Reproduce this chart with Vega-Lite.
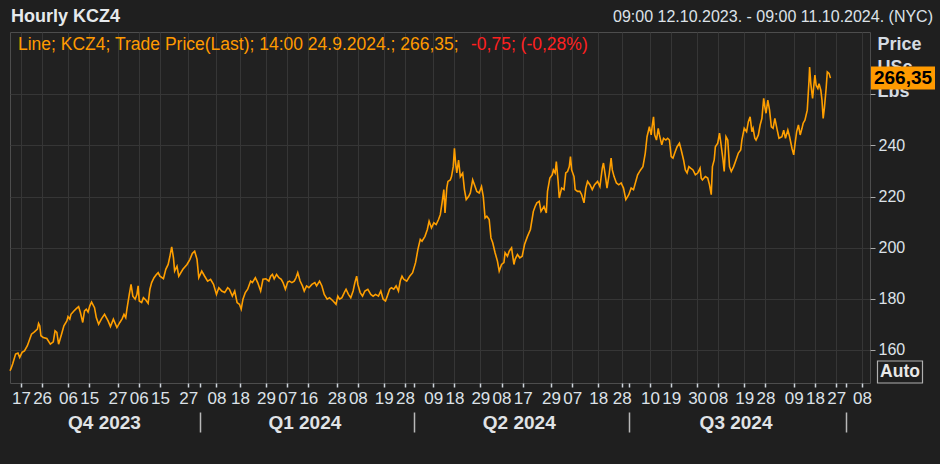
{
  "$schema": "https://vega.github.io/schema/vega-lite/v6.json",
  "width": 860,
  "height": 351,
  "autosize": {"type": "none"},
  "padding": {"left": 10, "top": 32, "right": 70, "bottom": 81},
  "background": "#1f1f1f",
  "datasets": {
    "price": [
      {"t": "2023-10-12T09:00", "v": 151.8}, {"t": "2023-10-12T18:00", "v": 152.5}, {"t": "2023-10-13T12:00", "v": 154.4}, {"t": "2023-10-14T18:00", "v": 158.3}, {"t": "2023-10-15T18:00", "v": 158.7}, {"t": "2023-10-16T12:00", "v": 157.0}, {"t": "2023-10-17T12:00", "v": 159.0}, {"t": "2023-10-18T12:00", "v": 159.6}, {"t": "2023-10-19T18:00", "v": 161.6}, {"t": "2023-10-21T00:00", "v": 164.8}, {"t": "2023-10-21T12:00", "v": 166.1}, {"t": "2023-10-22T18:00", "v": 167.0}, {"t": "2023-10-24T00:00", "v": 168.1}, {"t": "2023-10-24T12:00", "v": 170.3}, {"t": "2023-10-25T00:00", "v": 169.4}, {"t": "2023-10-25T12:00", "v": 165.5}, {"t": "2023-10-26T12:00", "v": 164.8}, {"t": "2023-10-28T00:00", "v": 164.4}, {"t": "2023-10-29T12:00", "v": 162.2}, {"t": "2023-10-30T18:00", "v": 163.1}, {"t": "2023-10-31T12:00", "v": 167.4},
      {"t": "2023-11-01T06:00", "v": 166.8}, {"t": "2023-11-02T00:00", "v": 162.2}, {"t": "2023-11-03T06:00", "v": 166.1}, {"t": "2023-11-04T06:00", "v": 169.4}, {"t": "2023-11-05T12:00", "v": 171.3}, {"t": "2023-11-06T00:00", "v": 173.0}, {"t": "2023-11-06T18:00", "v": 172.0}, {"t": "2023-11-07T06:00", "v": 173.9}, {"t": "2023-11-08T12:00", "v": 175.2}, {"t": "2023-11-09T12:00", "v": 176.1}, {"t": "2023-11-10T12:00", "v": 176.9}, {"t": "2023-11-11T06:00", "v": 174.6}, {"t": "2023-11-12T06:00", "v": 170.7}, {"t": "2023-11-13T00:00", "v": 175.2}, {"t": "2023-11-13T18:00", "v": 175.9}, {"t": "2023-11-14T12:00", "v": 174.8}, {"t": "2023-11-15T06:00", "v": 177.2}, {"t": "2023-11-16T00:00", "v": 178.7}, {"t": "2023-11-17T06:00", "v": 176.5}, {"t": "2023-11-18T00:00", "v": 172.6}, {"t": "2023-11-19T00:00", "v": 170.0}, {"t": "2023-11-20T06:00", "v": 172.2}, {"t": "2023-11-21T12:00", "v": 173.9}, {"t": "2023-11-23T00:00", "v": 171.3}, {"t": "2023-11-24T00:00", "v": 169.1}, {"t": "2023-11-25T06:00", "v": 172.0}, {"t": "2023-11-26T18:00", "v": 168.7}, {"t": "2023-11-28T00:00", "v": 170.7}, {"t": "2023-11-29T00:00", "v": 172.2}, {"t": "2023-11-29T18:00", "v": 173.9}, {"t": "2023-11-30T12:00", "v": 172.6},
      {"t": "2023-12-01T00:00", "v": 175.9}, {"t": "2023-12-02T00:00", "v": 181.7}, {"t": "2023-12-02T18:00", "v": 185.6}, {"t": "2023-12-03T12:00", "v": 181.0}, {"t": "2023-12-04T12:00", "v": 179.8}, {"t": "2023-12-05T06:00", "v": 181.7}, {"t": "2023-12-05T18:00", "v": 185.0}, {"t": "2023-12-06T06:00", "v": 179.1}, {"t": "2023-12-07T06:00", "v": 178.5}, {"t": "2023-12-08T00:00", "v": 180.4}, {"t": "2023-12-09T00:00", "v": 179.5}, {"t": "2023-12-10T00:00", "v": 178.2}, {"t": "2023-12-10T18:00", "v": 183.7}, {"t": "2023-12-11T12:00", "v": 186.3}, {"t": "2023-12-12T12:00", "v": 188.2}, {"t": "2023-12-13T12:00", "v": 189.5}, {"t": "2023-12-14T06:00", "v": 190.2}, {"t": "2023-12-15T00:00", "v": 188.8}, {"t": "2023-12-16T12:00", "v": 187.8}, {"t": "2023-12-17T12:00", "v": 191.5}, {"t": "2023-12-18T12:00", "v": 193.4}, {"t": "2023-12-19T06:00", "v": 196.6}, {"t": "2023-12-20T00:00", "v": 200.3}, {"t": "2023-12-20T18:00", "v": 196.0}, {"t": "2023-12-21T06:00", "v": 190.8}, {"t": "2023-12-22T06:00", "v": 192.7}, {"t": "2023-12-23T00:00", "v": 188.8}, {"t": "2023-12-24T18:00", "v": 191.5}, {"t": "2023-12-26T12:00", "v": 193.4}, {"t": "2023-12-27T18:00", "v": 195.4}, {"t": "2023-12-28T18:00", "v": 197.7}, {"t": "2023-12-29T18:00", "v": 198.6}, {"t": "2023-12-30T18:00", "v": 195.4}, {"t": "2023-12-31T12:00", "v": 188.2},
      {"t": "2024-01-01T18:00", "v": 190.8}, {"t": "2024-01-03T00:00", "v": 188.8}, {"t": "2024-01-04T06:00", "v": 186.9}, {"t": "2024-01-05T12:00", "v": 187.6}, {"t": "2024-01-06T18:00", "v": 185.6}, {"t": "2024-01-08T00:00", "v": 181.7}, {"t": "2024-01-09T00:00", "v": 184.3}, {"t": "2024-01-10T06:00", "v": 183.0}, {"t": "2024-01-11T12:00", "v": 182.4}, {"t": "2024-01-12T18:00", "v": 184.3}, {"t": "2024-01-13T12:00", "v": 183.7}, {"t": "2024-01-14T18:00", "v": 181.0}, {"t": "2024-01-15T18:00", "v": 183.0}, {"t": "2024-01-16T18:00", "v": 178.5}, {"t": "2024-01-17T18:00", "v": 177.8}, {"t": "2024-01-18T12:00", "v": 175.9}, {"t": "2024-01-19T06:00", "v": 179.8}, {"t": "2024-01-20T06:00", "v": 182.4}, {"t": "2024-01-21T06:00", "v": 183.7}, {"t": "2024-01-22T12:00", "v": 186.9}, {"t": "2024-01-23T06:00", "v": 186.3}, {"t": "2024-01-24T12:00", "v": 188.2}, {"t": "2024-01-25T12:00", "v": 186.3}, {"t": "2024-01-26T18:00", "v": 183.0}, {"t": "2024-01-27T18:00", "v": 187.6}, {"t": "2024-01-29T00:00", "v": 187.8}, {"t": "2024-01-30T06:00", "v": 186.9}, {"t": "2024-01-31T00:00", "v": 188.8}, {"t": "2024-01-31T18:00", "v": 189.5},
      {"t": "2024-02-01T12:00", "v": 187.8}, {"t": "2024-02-02T12:00", "v": 189.5}, {"t": "2024-02-03T12:00", "v": 188.2}, {"t": "2024-02-04T12:00", "v": 187.6}, {"t": "2024-02-05T06:00", "v": 186.3}, {"t": "2024-02-06T06:00", "v": 183.7}, {"t": "2024-02-07T06:00", "v": 186.5}, {"t": "2024-02-08T00:00", "v": 186.9}, {"t": "2024-02-09T00:00", "v": 186.3}, {"t": "2024-02-10T00:00", "v": 186.9}, {"t": "2024-02-10T18:00", "v": 188.2}, {"t": "2024-02-11T12:00", "v": 190.2}, {"t": "2024-02-12T12:00", "v": 186.9}, {"t": "2024-02-13T12:00", "v": 185.0}, {"t": "2024-02-14T06:00", "v": 183.0}, {"t": "2024-02-15T06:00", "v": 185.0}, {"t": "2024-02-16T06:00", "v": 184.3}, {"t": "2024-02-17T12:00", "v": 185.6}, {"t": "2024-02-18T18:00", "v": 186.3}, {"t": "2024-02-19T12:00", "v": 185.0}, {"t": "2024-02-20T18:00", "v": 186.9}, {"t": "2024-02-21T18:00", "v": 185.0}, {"t": "2024-02-22T18:00", "v": 181.7}, {"t": "2024-02-24T00:00", "v": 179.8}, {"t": "2024-02-25T00:00", "v": 180.4}, {"t": "2024-02-26T12:00", "v": 179.1}, {"t": "2024-02-27T18:00", "v": 177.8}, {"t": "2024-02-28T12:00", "v": 181.0}, {"t": "2024-02-29T06:00", "v": 179.8},
      {"t": "2024-03-01T06:00", "v": 180.4}, {"t": "2024-03-02T06:00", "v": 182.4}, {"t": "2024-03-03T00:00", "v": 183.7}, {"t": "2024-03-04T00:00", "v": 181.7}, {"t": "2024-03-05T00:00", "v": 180.4}, {"t": "2024-03-06T00:00", "v": 183.0}, {"t": "2024-03-06T18:00", "v": 186.3}, {"t": "2024-03-07T12:00", "v": 188.8}, {"t": "2024-03-08T00:00", "v": 185.6}, {"t": "2024-03-09T00:00", "v": 182.4}, {"t": "2024-03-10T00:00", "v": 181.0}, {"t": "2024-03-11T00:00", "v": 183.0}, {"t": "2024-03-12T06:00", "v": 183.7}, {"t": "2024-03-13T12:00", "v": 181.7}, {"t": "2024-03-14T12:00", "v": 181.0}, {"t": "2024-03-15T12:00", "v": 181.7}, {"t": "2024-03-16T18:00", "v": 181.0}, {"t": "2024-03-17T18:00", "v": 183.0}, {"t": "2024-03-18T18:00", "v": 179.8}, {"t": "2024-03-19T18:00", "v": 179.1}, {"t": "2024-03-20T12:00", "v": 181.0}, {"t": "2024-03-21T12:00", "v": 183.7}, {"t": "2024-03-22T06:00", "v": 184.3}, {"t": "2024-03-23T06:00", "v": 183.7}, {"t": "2024-03-24T06:00", "v": 185.0}, {"t": "2024-03-25T06:00", "v": 183.0}, {"t": "2024-03-26T00:00", "v": 186.9}, {"t": "2024-03-26T18:00", "v": 188.8}, {"t": "2024-03-27T12:00", "v": 187.6}, {"t": "2024-03-28T18:00", "v": 186.9}, {"t": "2024-03-30T00:00", "v": 188.8}, {"t": "2024-03-31T06:00", "v": 190.2},
      {"t": "2024-04-01T12:00", "v": 194.1}, {"t": "2024-04-02T12:00", "v": 199.3}, {"t": "2024-04-03T12:00", "v": 203.2}, {"t": "2024-04-04T06:00", "v": 202.5}, {"t": "2024-04-05T12:00", "v": 204.4}, {"t": "2024-04-06T12:00", "v": 207.1}, {"t": "2024-04-07T06:00", "v": 210.3}, {"t": "2024-04-08T06:00", "v": 207.7}, {"t": "2024-04-09T06:00", "v": 209.7}, {"t": "2024-04-10T06:00", "v": 209.0}, {"t": "2024-04-11T06:00", "v": 211.0}, {"t": "2024-04-12T00:00", "v": 212.9}, {"t": "2024-04-12T18:00", "v": 217.5}, {"t": "2024-04-13T12:00", "v": 222.7}, {"t": "2024-04-14T00:00", "v": 213.6}, {"t": "2024-04-14T18:00", "v": 223.3}, {"t": "2024-04-15T06:00", "v": 225.9}, {"t": "2024-04-16T06:00", "v": 226.5}, {"t": "2024-04-16T18:00", "v": 227.8}, {"t": "2024-04-17T12:00", "v": 231.7}, {"t": "2024-04-18T00:00", "v": 238.9}, {"t": "2024-04-18T12:00", "v": 233.1}, {"t": "2024-04-19T00:00", "v": 229.2}, {"t": "2024-04-19T18:00", "v": 234.3}, {"t": "2024-04-20T12:00", "v": 227.8}, {"t": "2024-04-21T12:00", "v": 229.2}, {"t": "2024-04-22T06:00", "v": 222.7}, {"t": "2024-04-23T00:00", "v": 218.8}, {"t": "2024-04-24T00:00", "v": 220.0}, {"t": "2024-04-24T18:00", "v": 221.4}, {"t": "2024-04-25T18:00", "v": 226.5}, {"t": "2024-04-26T12:00", "v": 224.6}, {"t": "2024-04-27T12:00", "v": 222.0}, {"t": "2024-04-28T12:00", "v": 221.4}, {"t": "2024-04-29T12:00", "v": 223.9}, {"t": "2024-04-30T06:00", "v": 220.0},
      {"t": "2024-05-01T00:00", "v": 211.6}, {"t": "2024-05-01T18:00", "v": 212.3}, {"t": "2024-05-02T18:00", "v": 211.0}, {"t": "2024-05-03T12:00", "v": 203.8}, {"t": "2024-05-04T06:00", "v": 201.9}, {"t": "2024-05-05T06:00", "v": 198.0}, {"t": "2024-05-06T06:00", "v": 194.7}, {"t": "2024-05-07T00:00", "v": 190.8}, {"t": "2024-05-08T00:00", "v": 193.4}, {"t": "2024-05-09T00:00", "v": 194.1}, {"t": "2024-05-09T12:00", "v": 198.0}, {"t": "2024-05-10T12:00", "v": 196.6}, {"t": "2024-05-11T06:00", "v": 198.6}, {"t": "2024-05-12T06:00", "v": 199.9}, {"t": "2024-05-13T06:00", "v": 193.4}, {"t": "2024-05-13T18:00", "v": 195.4}, {"t": "2024-05-14T18:00", "v": 197.3}, {"t": "2024-05-15T18:00", "v": 196.0}, {"t": "2024-05-16T18:00", "v": 196.6}, {"t": "2024-05-17T18:00", "v": 201.2}, {"t": "2024-05-19T00:00", "v": 204.4}, {"t": "2024-05-20T06:00", "v": 207.1}, {"t": "2024-05-21T12:00", "v": 214.2}, {"t": "2024-05-22T06:00", "v": 216.1}, {"t": "2024-05-23T00:00", "v": 217.5}, {"t": "2024-05-24T00:00", "v": 218.1}, {"t": "2024-05-24T18:00", "v": 214.2}, {"t": "2024-05-26T00:00", "v": 216.1}, {"t": "2024-05-27T00:00", "v": 213.6}, {"t": "2024-05-27T12:00", "v": 222.0}, {"t": "2024-05-28T12:00", "v": 227.2}, {"t": "2024-05-29T12:00", "v": 228.5}, {"t": "2024-05-30T00:00", "v": 230.4}, {"t": "2024-05-30T18:00", "v": 229.2}, {"t": "2024-05-31T06:00", "v": 233.7},
      {"t": "2024-06-01T00:00", "v": 225.9}, {"t": "2024-06-01T12:00", "v": 219.4}, {"t": "2024-06-02T12:00", "v": 223.3}, {"t": "2024-06-03T12:00", "v": 222.7}, {"t": "2024-06-04T06:00", "v": 229.2}, {"t": "2024-06-05T00:00", "v": 229.8}, {"t": "2024-06-05T18:00", "v": 231.7}, {"t": "2024-06-06T06:00", "v": 235.6}, {"t": "2024-06-06T18:00", "v": 230.4}, {"t": "2024-06-07T18:00", "v": 227.8}, {"t": "2024-06-08T06:00", "v": 222.7}, {"t": "2024-06-09T06:00", "v": 222.0}, {"t": "2024-06-10T06:00", "v": 222.0}, {"t": "2024-06-11T00:00", "v": 220.7}, {"t": "2024-06-12T00:00", "v": 217.5}, {"t": "2024-06-12T18:00", "v": 223.3}, {"t": "2024-06-13T12:00", "v": 225.9}, {"t": "2024-06-14T12:00", "v": 224.6}, {"t": "2024-06-15T12:00", "v": 222.7}, {"t": "2024-06-16T12:00", "v": 224.6}, {"t": "2024-06-17T18:00", "v": 225.9}, {"t": "2024-06-18T18:00", "v": 223.9}, {"t": "2024-06-19T18:00", "v": 231.1}, {"t": "2024-06-20T06:00", "v": 233.1}, {"t": "2024-06-21T00:00", "v": 228.5}, {"t": "2024-06-21T18:00", "v": 223.3}, {"t": "2024-06-22T18:00", "v": 229.2}, {"t": "2024-06-23T12:00", "v": 235.0}, {"t": "2024-06-24T00:00", "v": 230.4}, {"t": "2024-06-24T18:00", "v": 227.8}, {"t": "2024-06-25T18:00", "v": 225.3}, {"t": "2024-06-26T18:00", "v": 224.6}, {"t": "2024-06-27T18:00", "v": 225.3}, {"t": "2024-06-28T18:00", "v": 223.3}, {"t": "2024-06-29T18:00", "v": 218.8},
      {"t": "2024-07-01T00:00", "v": 220.7}, {"t": "2024-07-02T00:00", "v": 223.3}, {"t": "2024-07-03T00:00", "v": 222.7}, {"t": "2024-07-04T18:00", "v": 228.5}, {"t": "2024-07-06T00:00", "v": 230.4}, {"t": "2024-07-07T00:00", "v": 231.7}, {"t": "2024-07-08T00:00", "v": 237.0}, {"t": "2024-07-08T18:00", "v": 243.4}, {"t": "2024-07-09T18:00", "v": 247.3}, {"t": "2024-07-10T12:00", "v": 244.1}, {"t": "2024-07-11T00:00", "v": 248.0}, {"t": "2024-07-11T12:00", "v": 251.2}, {"t": "2024-07-12T00:00", "v": 244.1}, {"t": "2024-07-12T18:00", "v": 242.1}, {"t": "2024-07-13T12:00", "v": 246.7}, {"t": "2024-07-14T00:00", "v": 244.1}, {"t": "2024-07-15T00:00", "v": 240.2}, {"t": "2024-07-15T18:00", "v": 242.8}, {"t": "2024-07-16T18:00", "v": 242.1}, {"t": "2024-07-17T12:00", "v": 242.8}, {"t": "2024-07-18T06:00", "v": 242.1}, {"t": "2024-07-19T00:00", "v": 235.6}, {"t": "2024-07-19T18:00", "v": 235.0}, {"t": "2024-07-20T12:00", "v": 237.0}, {"t": "2024-07-21T12:00", "v": 239.5}, {"t": "2024-07-22T12:00", "v": 240.9}, {"t": "2024-07-23T06:00", "v": 238.2}, {"t": "2024-07-24T06:00", "v": 234.3}, {"t": "2024-07-25T00:00", "v": 230.4}, {"t": "2024-07-25T18:00", "v": 229.2}, {"t": "2024-07-26T12:00", "v": 231.7}, {"t": "2024-07-27T06:00", "v": 231.1}, {"t": "2024-07-28T06:00", "v": 230.4}, {"t": "2024-07-29T06:00", "v": 228.5}, {"t": "2024-07-30T06:00", "v": 229.2}, {"t": "2024-07-31T06:00", "v": 231.1}, {"t": "2024-07-31T18:00", "v": 227.2},
      {"t": "2024-08-01T06:00", "v": 226.5}, {"t": "2024-08-02T12:00", "v": 227.8}, {"t": "2024-08-03T12:00", "v": 227.2}, {"t": "2024-08-04T06:00", "v": 224.6}, {"t": "2024-08-05T00:00", "v": 220.7}, {"t": "2024-08-05T12:00", "v": 231.7}, {"t": "2024-08-06T06:00", "v": 234.3}, {"t": "2024-08-06T18:00", "v": 239.5}, {"t": "2024-08-07T18:00", "v": 240.9}, {"t": "2024-08-08T12:00", "v": 244.8}, {"t": "2024-08-09T00:00", "v": 241.5}, {"t": "2024-08-10T00:00", "v": 234.3}, {"t": "2024-08-10T12:00", "v": 229.8}, {"t": "2024-08-11T06:00", "v": 243.4}, {"t": "2024-08-12T00:00", "v": 242.1}, {"t": "2024-08-12T18:00", "v": 231.7}, {"t": "2024-08-13T12:00", "v": 229.8}, {"t": "2024-08-14T12:00", "v": 231.7}, {"t": "2024-08-15T12:00", "v": 234.3}, {"t": "2024-08-16T12:00", "v": 237.0}, {"t": "2024-08-17T12:00", "v": 238.2}, {"t": "2024-08-18T00:00", "v": 242.1}, {"t": "2024-08-19T00:00", "v": 246.7}, {"t": "2024-08-20T00:00", "v": 245.4}, {"t": "2024-08-20T18:00", "v": 249.3}, {"t": "2024-08-21T12:00", "v": 251.2}, {"t": "2024-08-22T06:00", "v": 245.4}, {"t": "2024-08-22T18:00", "v": 246.7}, {"t": "2024-08-23T12:00", "v": 242.8}, {"t": "2024-08-24T00:00", "v": 242.1}, {"t": "2024-08-25T00:00", "v": 244.1}, {"t": "2024-08-25T18:00", "v": 248.0}, {"t": "2024-08-26T12:00", "v": 250.6}, {"t": "2024-08-27T06:00", "v": 258.4}, {"t": "2024-08-27T18:00", "v": 255.1}, {"t": "2024-08-28T06:00", "v": 252.6}, {"t": "2024-08-29T00:00", "v": 257.7}, {"t": "2024-08-29T18:00", "v": 253.8}, {"t": "2024-08-30T12:00", "v": 247.3}, {"t": "2024-08-31T06:00", "v": 246.7},
      {"t": "2024-09-01T00:00", "v": 250.6}, {"t": "2024-09-02T00:00", "v": 246.0}, {"t": "2024-09-02T18:00", "v": 242.8}, {"t": "2024-09-04T00:00", "v": 243.4}, {"t": "2024-09-04T18:00", "v": 246.0}, {"t": "2024-09-05T12:00", "v": 242.8}, {"t": "2024-09-06T12:00", "v": 246.0}, {"t": "2024-09-07T06:00", "v": 243.4}, {"t": "2024-09-08T06:00", "v": 238.9}, {"t": "2024-09-09T00:00", "v": 236.3}, {"t": "2024-09-09T12:00", "v": 240.2}, {"t": "2024-09-10T06:00", "v": 245.4}, {"t": "2024-09-11T00:00", "v": 248.0}, {"t": "2024-09-11T18:00", "v": 244.1}, {"t": "2024-09-12T12:00", "v": 246.7}, {"t": "2024-09-13T00:00", "v": 248.7}, {"t": "2024-09-13T18:00", "v": 249.9}, {"t": "2024-09-14T18:00", "v": 253.8}, {"t": "2024-09-15T00:00", "v": 257.7}, {"t": "2024-09-15T12:00", "v": 265.5}, {"t": "2024-09-15T18:00", "v": 270.7}, {"t": "2024-09-16T06:00", "v": 264.2}, {"t": "2024-09-17T00:00", "v": 258.4}, {"t": "2024-09-17T12:00", "v": 263.0}, {"t": "2024-09-18T00:00", "v": 267.5}, {"t": "2024-09-18T12:00", "v": 263.6}, {"t": "2024-09-19T06:00", "v": 262.3}, {"t": "2024-09-19T18:00", "v": 264.2}, {"t": "2024-09-20T12:00", "v": 261.6}, {"t": "2024-09-21T00:00", "v": 257.7}, {"t": "2024-09-21T12:00", "v": 250.6}, {"t": "2024-09-22T00:00", "v": 254.5}, {"t": "2024-09-22T18:00", "v": 262.3}, {"t": "2024-09-23T06:00", "v": 268.8}, {"t": "2024-09-24T00:00", "v": 268.2}, {"t": "2024-09-24T14:00", "v": 266.35}
    ],
    "last": [{"v": 266.35, "label": "266,35"}],
    "header": [{"text": "Hourly KCZ4"}],
    "legend": [{"text": "Line; KCZ4; Trade Price(Last); 14:00 24.9.2024.; 266,35;"}],
    "change": [{"text": "-0,75; (-0,28%)"}],
    "range": [{"text": "09:00 12.10.2023. - 09:00 11.10.2024. (NYC)"}],
    "button": [{"text": "Auto"}]
  },
  "config": {
    "view": {"fill": "#212121", "stroke": "#4d4d4d", "strokeWidth": 1},
    "font": "Liberation Sans",
    "axis": {"labelFont": "Liberation Sans", "titleFont": "Liberation Sans"},
    "text": {"font": "Liberation Sans"}
  },
  "resolve": {"axis": {"x": "independent", "y": "independent"}},
  "layer": [
    {
      "data": {"name": "price"},
      "mark": {"type": "line", "color": "#ff9f00", "strokeWidth": 1.6},
      "encoding": {
        "x": {
          "field": "t", "type": "temporal",
          "scale": {"domain": [{"year": 2023, "month": 10, "date": 12, "hours": 9}, {"year": 2024, "month": 10, "date": 11, "hours": 9}], "nice": false},
          "axis": {
            "orient": "bottom", "title": null, "domain": false, "format": "%d",
            "values": [
              {"year": 2023, "month": 10, "date": 17}, {"year": 2023, "month": 10, "date": 26}, {"year": 2023, "month": 11, "date": 6}, {"year": 2023, "month": 11, "date": 15}, {"year": 2023, "month": 11, "date": 27}, {"year": 2023, "month": 12, "date": 6}, {"year": 2023, "month": 12, "date": 15}, {"year": 2023, "month": 12, "date": 27},
              {"year": 2024, "month": 1, "date": 1}, {"year": 2024, "month": 1, "date": 8}, {"year": 2024, "month": 1, "date": 18}, {"year": 2024, "month": 1, "date": 29}, {"year": 2024, "month": 2, "date": 7}, {"year": 2024, "month": 2, "date": 16}, {"year": 2024, "month": 2, "date": 28}, {"year": 2024, "month": 3, "date": 8}, {"year": 2024, "month": 3, "date": 19}, {"year": 2024, "month": 3, "date": 28},
              {"year": 2024, "month": 4, "date": 1}, {"year": 2024, "month": 4, "date": 9}, {"year": 2024, "month": 4, "date": 18}, {"year": 2024, "month": 4, "date": 29}, {"year": 2024, "month": 5, "date": 8}, {"year": 2024, "month": 5, "date": 17}, {"year": 2024, "month": 5, "date": 29}, {"year": 2024, "month": 6, "date": 7}, {"year": 2024, "month": 6, "date": 18}, {"year": 2024, "month": 6, "date": 28},
              {"year": 2024, "month": 7, "date": 1}, {"year": 2024, "month": 7, "date": 10}, {"year": 2024, "month": 7, "date": 19}, {"year": 2024, "month": 7, "date": 30}, {"year": 2024, "month": 8, "date": 8}, {"year": 2024, "month": 8, "date": 19}, {"year": 2024, "month": 8, "date": 28}, {"year": 2024, "month": 9, "date": 9}, {"year": 2024, "month": 9, "date": 18}, {"year": 2024, "month": 9, "date": 27},
              {"year": 2024, "month": 10, "date": 1}, {"year": 2024, "month": 10, "date": 8}
            ],
            "labelExpr": "date(datum.value) == 1 ? '' : datum.label",
            "grid": true, "gridColor": "#363636", "gridWidth": 1,
            "gridOpacity": {"condition": {"test": "date(datum.value) == 1", "value": 0}, "value": 1},
            "tickSize": 4, "tickColor": "#cfd5dc", "tickWidth": 1.5,
            "labelFontSize": 17, "labelColor": "#dde2e8", "labelPadding": 3,
            "labelOverlap": false, "labelFlush": false, "labelBound": false
          }
        },
        "y": {
          "field": "v", "type": "quantitative",
          "scale": {"domain": [147, 284.4], "zero": false, "nice": false},
          "axis": {
            "orient": "right", "values": [160, 180, 200, 220, 240, 260],
            "labelExpr": "datum.value == 260 ? '' : datum.label",
            "title": ["Price", "USc", "Lbs"], "titleAngle": 0, "titleAlign": "left", "titleBaseline": "top",
            "titleX": 7, "titleY": 3, "titleLineHeight": 23.5, "titleFontSize": 18, "titleFontWeight": "bold", "titleColor": "#d5dbe2",
            "domain": false, "grid": true, "gridColor": "#363636",
            "tickSize": 5, "tickColor": "#aaaaaa", "labelPadding": 3, "labelFontSize": 16, "labelColor": "#dde2e8"
          }
        }
      }
    },
    {
      "data": {"name": "price"},
      "mark": {"type": "line", "opacity": 0},
      "encoding": {
        "x": {
          "field": "t", "type": "temporal",
          "axis": {
            "orient": "bottom", "offset": 29, "title": null, "domain": false, "grid": false,
            "values": [{"year": 2024, "month": 1, "date": 1}, {"year": 2024, "month": 4, "date": 1}, {"year": 2024, "month": 7, "date": 1}, {"year": 2024, "month": 10, "date": 1}],
            "labelExpr": "month(datum.value) == 0 ? 'Q4 2023' : month(datum.value) == 3 ? 'Q1 2024' : month(datum.value) == 6 ? 'Q2 2024' : 'Q3 2024'",
            "labelOffset": {"condition": {"test": "month(datum.value) == 0", "value": -96}, "value": -110},
            "tickSize": 20, "tickColor": "#b8b8b8", "tickWidth": 1.5,
            "labelFontSize": 19, "labelFontWeight": "bold", "labelColor": "#e0e3e6", "labelBaseline": "middle", "labelPadding": -10,
            "labelOverlap": false, "labelFlush": false, "labelBound": false
          }
        },
        "y": {"field": "v", "type": "quantitative", "axis": null}
      }
    },
    {
      "data": {"name": "last"},
      "mark": {"type": "tick", "orient": "horizontal", "size": 64, "thickness": 23, "color": "#ff9a00", "opacity": 1, "xOffset": 33},
      "encoding": {
        "x": {"datum": {"year": 2024, "month": 10, "date": 11, "hours": 9}, "type": "temporal", "axis": null},
        "y": {"field": "v", "type": "quantitative", "axis": null}
      }
    },
    {
      "data": {"name": "last"},
      "mark": {"type": "text", "xOffset": 33, "align": "center", "baseline": "middle", "fontWeight": "bold", "fontSize": 19, "color": "#000000"},
      "encoding": {
        "x": {"datum": {"year": 2024, "month": 10, "date": 11, "hours": 9}, "type": "temporal", "axis": null},
        "y": {"field": "v", "type": "quantitative", "axis": null},
        "text": {"field": "label"}
      }
    },
    {
      "data": {"name": "header"},
      "mark": {"type": "text", "align": "left", "baseline": "middle", "dx": 1, "dy": -15, "fontSize": 18, "fontWeight": "bold", "color": "#e6e9ec"},
      "encoding": {
        "x": {"datum": {"year": 2023, "month": 10, "date": 12, "hours": 9}, "type": "temporal", "axis": null},
        "y": {"datum": 284.4, "type": "quantitative", "axis": null},
        "text": {"field": "text"}
      }
    },
    {
      "data": {"name": "legend"},
      "mark": {"type": "text", "align": "left", "baseline": "middle", "dx": 8, "dy": 13, "fontSize": 17.5, "color": "#ff9a00"},
      "encoding": {
        "x": {"datum": {"year": 2023, "month": 10, "date": 12, "hours": 9}, "type": "temporal", "axis": null},
        "y": {"datum": 284.4, "type": "quantitative", "axis": null},
        "text": {"field": "text"}
      }
    },
    {
      "data": {"name": "change"},
      "mark": {"type": "text", "align": "left", "baseline": "middle", "dx": 461, "dy": 13, "fontSize": 17.5, "color": "#ff2020"},
      "encoding": {
        "x": {"datum": {"year": 2023, "month": 10, "date": 12, "hours": 9}, "type": "temporal", "axis": null},
        "y": {"datum": 284.4, "type": "quantitative", "axis": null},
        "text": {"field": "text"}
      }
    },
    {
      "data": {"name": "range"},
      "mark": {"type": "text", "align": "right", "baseline": "middle", "dx": 63, "dy": -15, "fontSize": 16, "color": "#dde2e8"},
      "encoding": {
        "x": {"datum": {"year": 2024, "month": 10, "date": 11, "hours": 9}, "type": "temporal", "axis": null},
        "y": {"datum": 284.4, "type": "quantitative", "axis": null},
        "text": {"field": "text"}
      }
    },
    {
      "data": {"name": "button"},
      "mark": {"type": "tick", "orient": "horizontal", "size": 45, "thickness": 22, "filled": false, "fill": null, "stroke": "#b0b0b0", "strokeWidth": 1.2, "opacity": 1, "xOffset": 30, "yOffset": -11},
      "encoding": {
        "x": {"datum": {"year": 2024, "month": 10, "date": 11, "hours": 9}, "type": "temporal", "axis": null},
        "y": {"datum": 147, "type": "quantitative", "axis": null}
      }
    },
    {
      "data": {"name": "button"},
      "mark": {"type": "text", "align": "center", "baseline": "middle", "xOffset": 30, "yOffset": -11, "fontSize": 17.5, "fontWeight": "bold", "color": "#e8e8e8"},
      "encoding": {
        "x": {"datum": {"year": 2024, "month": 10, "date": 11, "hours": 9}, "type": "temporal", "axis": null},
        "y": {"datum": 147, "type": "quantitative", "axis": null},
        "text": {"field": "text"}
      }
    }
  ]
}
